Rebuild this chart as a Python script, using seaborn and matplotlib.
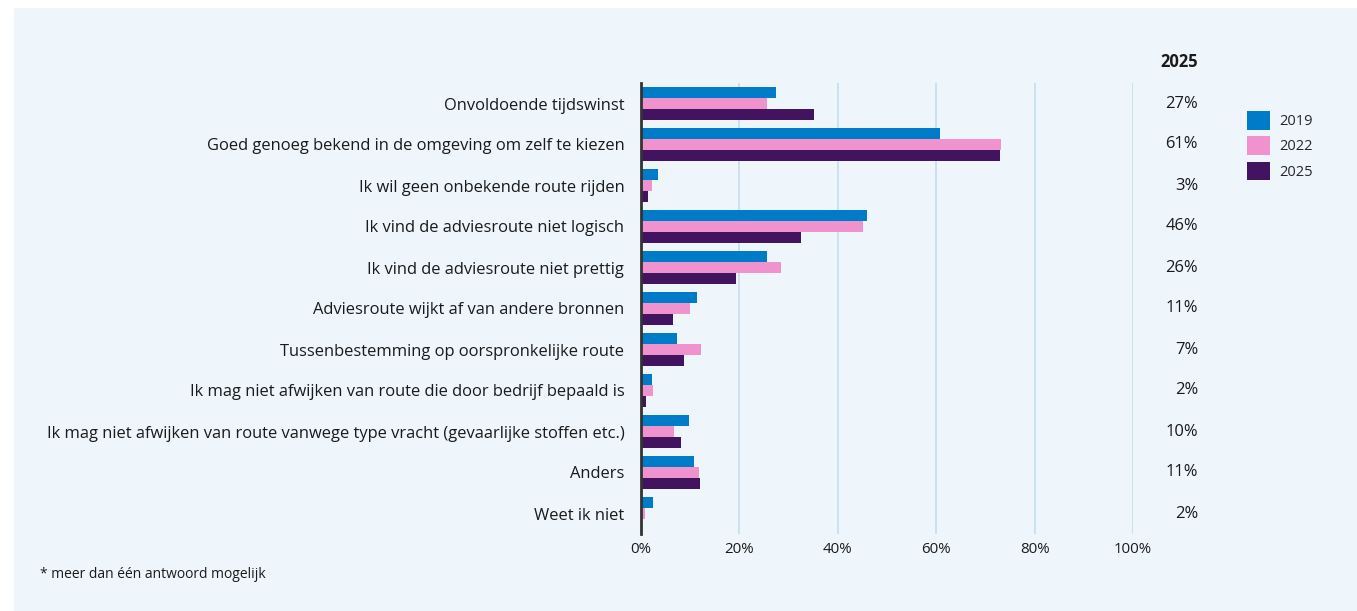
import pandas as pd
import matplotlib.pyplot as plt
import matplotlib.transforms as mtrans
import seaborn as sns
from matplotlib.patches import Rectangle

categories = [
    "Onvoldoende tijdswinst",
    "Goed genoeg bekend in de omgeving om zelf te kiezen",
    "Ik wil geen onbekende route rijden",
    "Ik vind de adviesroute niet logisch",
    "Ik vind de adviesroute niet prettig",
    "Adviesroute wijkt af van andere bronnen",
    "Tussenbestemming op oorspronkelijke route",
    "Ik mag niet afwijken van route die door bedrijf bepaald is",
    "Ik mag niet afwijken van route vanwege type vracht (gevaarlijke stoffen etc.)",
    "Anders",
    "Weet ik niet",
]
years = ["2019", "2022", "2025"]
values_2019 = [27.4, 60.8, 3.5, 45.9, 25.6, 11.4, 7.3, 2.2, 9.8, 10.8, 2.4]
values_2022 = [25.6, 73.2, 2.2, 45.1, 28.5, 10.0, 12.2, 2.4, 6.7, 11.8, 0.8]
values_2025 = [35.2, 73.0, 1.4, 32.5, 19.3, 6.5, 8.7, 1.0, 8.1, 12.0, 0.0]
labels_2025 = ["27%", "61%", "3%", "46%", "26%", "11%", "7%", "2%", "10%", "11%", "2%"]
x_ticks = [0, 20, 40, 60, 80, 100]

colors = {"2019": "#007BC7", "2022": "#F092CD", "2025": "#42145F"}
panel = "#EEF6FC"
grid_col = "#C3DEEE"
txt_col = "#1a1a1a"

df = pd.DataFrame({
    "categorie": categories * 3,
    "jaar": [y for y in years for _ in categories],
    "waarde": values_2019 + values_2022 + values_2025,
})

sns.set_theme(style="white")
plt.rcParams["font.family"] = ["Open Sans", "DejaVu Sans"]

W, H = 1357, 611
fig = plt.figure(figsize=(W / 100, H / 100), dpi=100, facecolor="white")
fig.patches.append(Rectangle((14 / W, 0), 1 - 14 / W, 1 - 8 / H,
                             transform=fig.transFigure, facecolor=panel,
                             edgecolor="none", zorder=-10))
ax = fig.add_axes([641 / W, 1 - 534 / H, 492 / W, 451 / H])
ax.set_facecolor(panel)

sns.barplot(data=df, y="categorie", x="waarde", hue="jaar", orient="h",
            palette=colors, width=0.8, ax=ax, legend=True, saturation=1,
            linewidth=0, edgecolor="none")

ax.set_xlim(0, 100)
ax.set_ylim(len(categories) - 0.5, -0.5)
ax.set_xticks(x_ticks)
ax.set_xticklabels([f"{t}%" for t in x_ticks], fontsize=10.8, color=txt_col)
shift = mtrans.ScaledTranslation(7 / 100, 0, fig.dpi_scale_trans)
for lab in ax.get_xticklabels():
    lab.set_transform(lab.get_transform() + shift)
for t in x_ticks[1:]:
    ax.axvline(t, color=grid_col, lw=1.2, zorder=0)
ax.tick_params(axis="y", length=0, pad=12, labelsize=11.9, labelcolor=txt_col)
ax.tick_params(axis="x", length=0, pad=6)
ax.set_xlabel("")
ax.set_ylabel("")
for s in ["top", "right", "bottom"]:
    ax.spines[s].set_visible(False)
ax.spines["left"].set_color("#333333")
ax.spines["left"].set_linewidth(2)

# kolom met 2025-waarden
for i, lab in enumerate(labels_2025):
    ax.text((1198 - 641) / 492, i, lab, transform=ax.get_yaxis_transform(),
            ha="right", va="center", fontsize=11.9, color=txt_col)
fig.text(1198 / W, 1 - 62 / H, "2025", ha="right", va="center",
         fontsize=11.9, fontweight="bold", color=txt_col)

handles, lbls = ax.get_legend_handles_labels()
ax.legend(handles, lbls, loc="upper left", bbox_to_anchor=(1247 / W, 1 - 111 / H),
          bbox_transform=fig.transFigure, frameon=False, fontsize=10.5,
          handlelength=1.6, handleheight=1.6, labelspacing=0.45,
          handletextpad=0.6, borderpad=0, borderaxespad=0)

fig.text(40 / W, 1 - 575 / H, "* meer dan één antwoord mogelijk", ha="left",
         va="center", fontsize=10, color=txt_col)

fig.savefig("out.png", dpi=100, facecolor="white")
